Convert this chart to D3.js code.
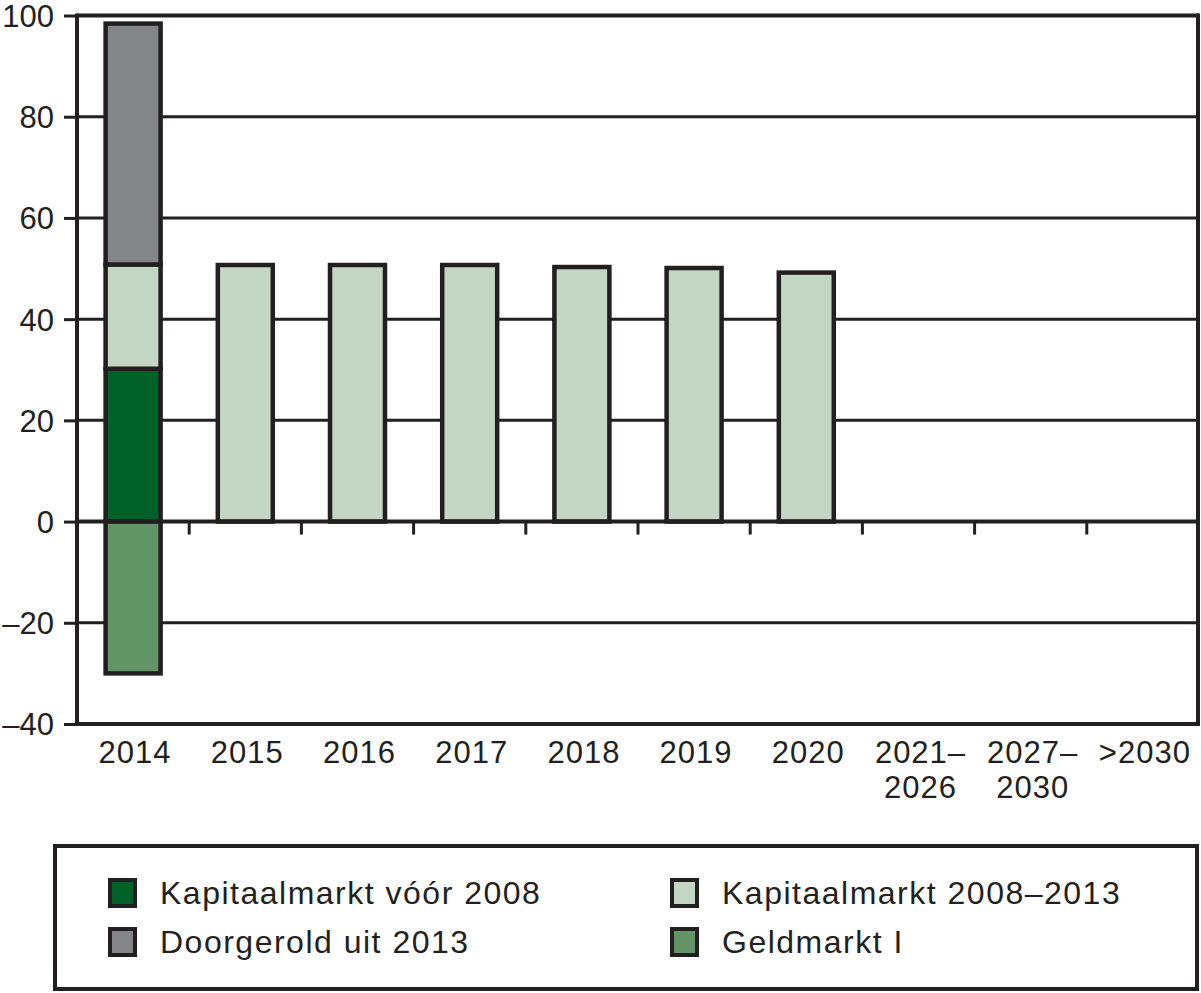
<!DOCTYPE html>
<html>
<head>
<meta charset="utf-8">
<script src="https://cdn.jsdelivr.net/npm/d3@7"></script>
<style>
  html, body { margin: 0; padding: 0; background: #fff; }
  svg text { font-family: "Liberation Sans", Arial, sans-serif; fill: #231f20; }
</style>
</head>
<body>
<svg id="chart" width="1201" height="993"></svg>
<script>
const categories = ["2014", "2015", "2016", "2017", "2018", "2019", "2020", "2021–\n2026", "2027–\n2030", ">2030"];
const seriesNames = ["Kapitaalmarkt vóór 2008", "Kapitaalmarkt 2008–2013", "Doorgerold uit 2013", "Geldmarkt I"];
const kapVoor2008 = [30.2, 0, 0, 0, 0, 0, 0, 0, 0, 0];
const kap2008_2013 = [20.6, 50.7, 50.7, 50.7, 50.3, 50.1, 49.2, 0, 0, 0];
const doorgerold2013 = [47.6, 0, 0, 0, 0, 0, 0, 0, 0, 0];
const geldmarkt = [-30, 0, 0, 0, 0, 0, 0, 0, 0, 0];
const yTicks = [-40, -20, 0, 20, 40, 60, 80, 100];
const colors = ["#006129", "#c3d6c3", "#848589", "#629466"];
const ink = "#231f20";

const seriesValues = [kapVoor2008, kap2008_2013, doorgerold2013, geldmarkt];
const rows = categories.map((c, i) => {
  const r = { cat: c };
  seriesNames.forEach((s, j) => { r[s] = seriesValues[j][i]; });
  return r;
});

const svg = d3.select("#chart");
const plotL = 77, plotR = 1199, plotT = 15.5, plotB = 724;

const x = d3.scaleBand().domain(categories).range([plotL, plotR]).paddingInner(0.51).paddingOuter(0.255);
const y = d3.scaleLinear().domain([-40, 100]).range([plotB, plotT]);
const step = x.step();

// gridlines
svg.append("g").selectAll("line").data(yTicks.filter(t => t !== 0 && t !== -40 && t !== 100)).join("line")
  .attr("x1", plotL).attr("x2", plotR).attr("y1", d => y(d)).attr("y2", d => y(d))
  .attr("stroke", ink).attr("stroke-width", 3);

// bars
const stack = d3.stack().keys(seriesNames).offset(d3.stackOffsetDiverging);
const stacked = stack(rows);
const gBars = svg.append("g");
stacked.forEach((layer, k) => {
  gBars.append("g").selectAll("rect")
    .data(layer.filter(d => d[1] - d[0] !== 0))
    .join("rect")
    .attr("x", d => x(d.data.cat))
    .attr("width", x.bandwidth())
    .attr("y", d => y(Math.max(d[0], d[1])))
    .attr("height", d => Math.abs(y(d[0]) - y(d[1])))
    .attr("fill", colors[k])
    .attr("stroke", ink)
    .attr("stroke-width", 4.5);
});

// frame: top, right, bottom
svg.append("line").attr("x1", plotL).attr("x2", plotR).attr("y1", y(100)).attr("y2", y(100)).attr("stroke", ink).attr("stroke-width", 4);
svg.append("line").attr("x1", plotR - 1).attr("x2", plotR - 1).attr("y1", y(100) - 2).attr("y2", y(-40) + 2).attr("stroke", ink).attr("stroke-width", 4);
svg.append("line").attr("x1", plotL - 2).attr("x2", plotR + 1).attr("y1", y(-40)).attr("y2", y(-40)).attr("stroke", ink).attr("stroke-width", 4);
// zero line
svg.append("line").attr("x1", plotL).attr("x2", plotR).attr("y1", y(0)).attr("y2", y(0)).attr("stroke", ink).attr("stroke-width", 4);

// y axis
const yAxis = d3.axisLeft(y).tickValues(yTicks).tickSize(13).tickPadding(10)
  .tickFormat(d => d < 0 ? "–" + Math.abs(d) : String(d));
const gy = svg.append("g").attr("transform", `translate(${plotL},0)`).call(yAxis);
gy.select(".domain").attr("stroke", ink).attr("stroke-width", 4).attr("d", `M0,${y(100) - 2}V${y(-40) + 2}`);
gy.selectAll(".tick line").attr("stroke", ink).attr("stroke-width", 3);
gy.selectAll(".tick text").attr("font-size", 31).attr("font-family", "Liberation Sans, Arial, sans-serif")
  .attr("fill", ink).attr("letter-spacing", "0px").attr("dy", "0.35em");

// x ticks between categories at zero line
const boundaries = categories.slice(1).map(c => x(c) + x.bandwidth() / 2 - step / 2);
svg.append("g").selectAll("line").data(boundaries).join("line")
  .attr("x1", d => d).attr("x2", d => d).attr("y1", y(0)).attr("y2", y(0) + 13)
  .attr("stroke", ink).attr("stroke-width", 3);

// x labels
const gx = svg.append("g");
categories.forEach(c => {
  const lines = c.split("\n");
  const t = gx.append("text").attr("x", x(c) + x.bandwidth() / 2 + 2).attr("y", 763)
    .attr("text-anchor", "middle").attr("font-size", 31).attr("letter-spacing", "1px");
  lines.forEach((l, i) => {
    t.append("tspan").attr("x", x(c) + x.bandwidth() / 2 + 2).attr("dy", i === 0 ? 0 : 35).text(l);
  });
});

// legend
svg.append("rect").attr("x", 55).attr("y", 846).attr("width", 1142).attr("height", 143)
  .attr("fill", "none").attr("stroke", ink).attr("stroke-width", 4);
const legendPos = [
  { s: 0, x: 110, y: 880 },
  { s: 1, x: 672, y: 880 },
  { s: 2, x: 110, y: 929 },
  { s: 3, x: 672, y: 929 }
];
legendPos.forEach(p => {
  svg.append("rect").attr("x", p.x).attr("y", p.y).attr("width", 25).attr("height", 26)
    .attr("fill", colors[p.s]).attr("stroke", ink).attr("stroke-width", 4);
  svg.append("text").attr("x", p.x + 50).attr("y", p.y + 13).attr("dy", "0.35em")
    .attr("font-size", 32).attr("letter-spacing", "1.5px").text(seriesNames[p.s]);
});
</script>
</body>
</html>
